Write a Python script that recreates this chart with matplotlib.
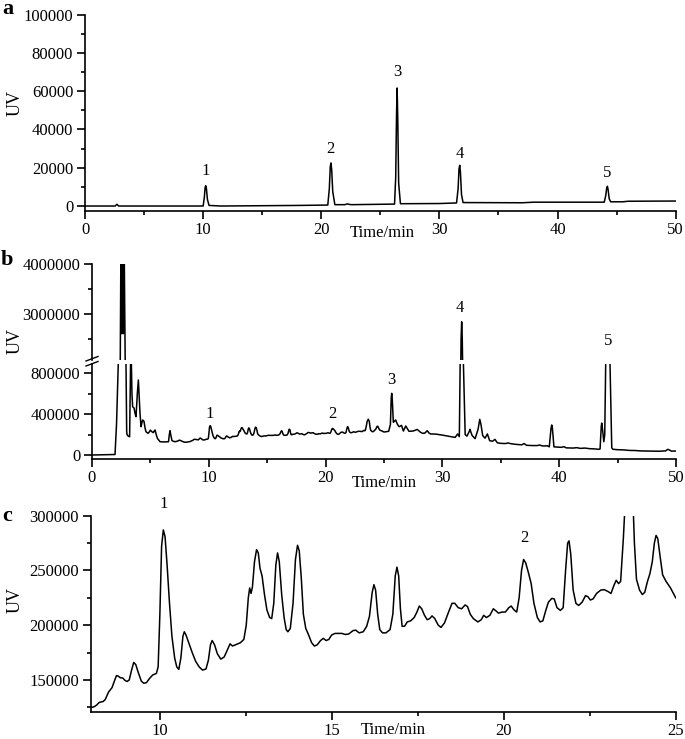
import matplotlib
matplotlib.use("Agg")
import matplotlib.pyplot as plt
from matplotlib.ticker import FixedLocator, FormatStrFormatter
from matplotlib.lines import Line2D

plt.rcParams['font.family'] = ['Liberation Serif', 'DejaVu Serif']

# ---------------- data ----------------
# Panel a: standard mixture chromatogram (time in min, UV signal)
a_time = [0, 2.55, 2.7, 2.85, 10.0, 10.1, 10.17, 10.22, 10.28, 10.36, 10.5, 11.5, 18, 20.55,
          20.68, 20.76, 20.82, 20.88, 20.97, 21.15, 22.0, 22.2, 22.5, 26.2, 26.3, 26.37,
          26.42, 26.47, 26.55, 26.7, 30, 31.45, 31.58, 31.66, 31.72, 31.78, 31.87, 32.0, 37,
          38, 43.95, 44.08, 44.16, 44.22, 44.28, 44.37, 44.5, 45.5, 46, 50]
a_uv = [0, 0, 900, 0, 0, 4500, 9800, 10600, 9000, 3500, 300, 0, 300, 500,
        9000, 20500, 22500, 19000, 7500, 700, 700, 1100, 700, 1000, 15000, 48000,
        61700, 47000, 12000, 1200, 1300, 1600, 9000, 19500, 21300, 17500, 6000, 1800, 1700,
        2000, 2000, 5500, 9500, 10300, 8500, 3800, 2200, 2200, 2500, 2600]
a_peak_time = [10.25, 20.8, 26.4, 31.7, 44.2]
a_peak_label_y = [18500, 29800, 69900, 27200, 17200]
peak_names = ['1', '2', '3', '4', '5']

# Panel b (sample) before 8 min
b_time_early = [0, 1.97, 2.1, 2.25, 2.42, 2.48, 2.55, 2.62, 2.68, 2.75, 2.84, 2.91, 2.97, 3.0,
                3.1, 3.22, 3.27, 3.31, 3.36, 3.42, 3.48, 3.6, 3.7, 3.77, 3.88, 3.97, 4.05,
                4.11, 4.2, 4.28, 4.34, 4.45, 4.55, 4.62, 4.8, 4.9, 5.0, 5.1, 5.25, 5.35, 5.4,
                5.5, 5.6, 5.83, 6.2, 6.55, 6.62, 6.68, 6.74, 6.85, 7.1, 7.3, 7.5, 7.7, 7.9]
b_uv_early = [0, 5000, 300000, 898000, 2100000, 4500000, 2600000, 4500000, 2600000, 4500000,
              2100000, 898000, 228000, 200000, 185000, 179000, 600000, 960000, 960000, 600000,
              473000, 460000, 400000, 375000, 600000, 734000, 550000, 408000, 277000, 320000,
              343000, 330000, 260000, 228000, 212000, 225000, 244000, 230000, 219000, 240000,
              245000, 200000, 163000, 130000, 128000, 130000, 200000, 238000, 200000, 140000,
              130000, 135000, 146000, 135000, 126000]

# Panel c (zoom 8-25 min of the sample; also the middle part of panel b)
c_time = [8.00, 8.10, 8.17, 8.25, 8.36, 8.42, 8.52, 8.62, 8.70, 8.75, 8.80, 8.86, 8.93, 9.00,
          9.06, 9.12, 9.18, 9.25, 9.31, 9.38, 9.47, 9.54, 9.62, 9.70, 9.80, 9.91, 9.96, 10.01,
          10.06, 10.11, 10.16, 10.22, 10.29, 10.36, 10.44, 10.50, 10.56, 10.62, 10.68, 10.72,
          10.77, 10.85, 10.95, 11.05, 11.15, 11.25, 11.35, 11.42, 11.48, 11.53, 11.60, 11.68,
          11.78, 11.88, 11.98, 12.05, 12.12, 12.20, 12.35, 12.45, 12.52, 12.58, 12.62, 12.66,
          12.70, 12.76, 12.82, 12.87, 12.92, 12.98, 13.05, 13.12, 13.20, 13.26, 13.32, 13.38,
          13.43, 13.48, 13.55, 13.62, 13.68, 13.73, 13.80, 13.88, 13.95, 14.01, 14.06, 14.12,
          14.18, 14.25, 14.32, 14.42, 14.50, 14.58, 14.68, 14.76, 14.84, 14.92, 15.00, 15.10,
          15.30, 15.40, 15.50, 15.62, 15.70, 15.80, 15.92, 16.02, 16.10, 16.18, 16.23, 16.28,
          16.34, 16.40, 16.48, 16.58, 16.70, 16.78, 16.85, 16.90, 16.95, 17.00, 17.05, 17.12,
          17.20, 17.30, 17.40, 17.48, 17.55, 17.62, 17.70, 17.78, 17.85, 17.92, 18.00, 18.10,
          18.18, 18.28, 18.40, 18.50, 18.58, 18.68, 18.78, 18.88, 18.95, 19.03, 19.12, 19.25,
          19.35, 19.42, 19.50, 19.60, 19.70, 19.78, 19.85, 19.95, 20.05, 20.15, 20.22, 20.30,
          20.38, 20.45, 20.52, 20.58, 20.64, 20.72, 20.80, 20.88, 20.98, 21.06, 21.14, 21.22,
          21.30, 21.40, 21.47, 21.55, 21.65, 21.73, 21.80, 21.86, 21.90, 21.95, 22.02, 22.10,
          22.18, 22.28, 22.38, 22.45, 22.52, 22.60, 22.70, 22.82, 22.92, 23.02, 23.12, 23.20,
          23.27, 23.34, 23.40, 23.48, 23.56, 23.65, 23.74, 23.80, 23.86, 23.95, 24.03, 24.10,
          24.18, 24.25, 24.32, 24.38, 24.43, 24.48, 24.55, 24.62, 24.72, 24.85, 25.00]
c_uv = [124800, 125500, 127000, 129500, 130300, 132000, 139000, 143000, 150000, 154000, 153500,
        152000, 151800, 149500, 148600, 150000, 158000, 166000, 164000, 157000, 149000, 147000,
        147500, 151000, 154500, 156000, 162000, 210000, 272000, 287000, 281000, 255000, 220000,
        190000, 170000, 162000, 159600, 170000, 190000, 194000, 191000, 184000, 175000, 167000,
        162000, 159000, 160000, 168000, 182000, 186000, 182000, 174000, 169000, 171000, 178000,
        183000, 181000, 182000, 184000, 187000, 200000, 225000, 234000, 229000, 235000, 258000,
        269000, 266000, 252000, 245000, 228000, 214000, 207000, 206000, 220000, 255000, 266000,
        258000, 228000, 207000, 196000, 194000, 197000, 220000, 260000, 273000, 268000, 243000,
        210000, 197000, 192000, 184000, 181000, 182000, 186000, 188000, 186000, 187000, 191000,
        192500, 192500, 191500, 192000, 195000, 195500, 193000, 194000, 199000, 208000, 230000,
        237000, 232000, 210000, 196000, 193000, 193000, 196000, 210000, 245000, 253000, 245000,
        215000, 199000, 199000, 203000, 204000, 207000, 212000, 217500, 215000, 209000, 205000,
        206000, 208500, 206000, 200000, 198000, 202000, 212000, 220000, 220000, 216000, 215000,
        218500, 217000, 210000, 206000, 203000, 205000, 209000, 207000, 209000, 215000, 213000,
        211000, 212000, 212000, 216000, 217500, 214000, 212000, 225000, 250000, 260000, 257000,
        248000, 238000, 220000, 207000, 203000, 204000, 213000, 221000, 224500, 224000, 216000,
        213500, 216000, 250000, 275000, 277000, 265000, 232000, 220000, 218000, 221000, 227000,
        226000, 223000, 224000, 229000, 232000, 232500, 231000, 229000, 236000, 241000, 238000,
        240000, 280000, 330000, 350000, 330000, 275000, 242000, 232000, 228000, 230000, 240000,
        247000, 258000, 275000, 282000, 279000, 262000, 246000, 240000, 234000, 225000]
c_peak_time = [10.11, 20.59]
c_peak_label_y = [310800, 280000]

# Panel b after 25 min
b_time_late = [25.4, 25.55, 25.62, 25.66, 25.71, 25.8, 26.0, 26.15, 26.3, 26.5, 26.66, 26.86,
               27.14, 27.5, 27.85, 28.1, 28.3, 28.5, 28.7, 28.85, 29.0, 29.4, 29.7, 30.0, 30.4,
               30.8, 31.1, 31.3, 31.45, 31.52, 31.6, 31.65, 31.7, 31.8, 31.95, 32.1, 32.3,
               32.36, 32.45, 32.55, 32.8, 33.05, 33.2, 33.3, 33.45, 33.65, 33.85, 34.05, 34.3,
               34.5, 34.7, 35.0, 35.4, 35.6, 35.9, 36.3, 36.8, 37.0, 37.2, 37.6, 38.1, 38.3,
               38.6, 39.0, 39.15, 39.3, 39.36, 39.42, 39.55, 39.8, 40.2, 40.4, 40.6, 41.2, 41.5,
               41.8, 42.2, 42.6, 43.0, 43.4, 43.5, 43.6, 43.64, 43.7, 43.82, 43.9, 43.98, 44.15,
               44.35, 44.5, 44.6, 45.0, 45.5, 46.0, 46.5, 47.0, 47.5, 48.0, 48.5, 49.1, 49.3,
               49.45, 49.6, 50.0]
b_uv_late = [232000, 300000, 560000, 604000, 540000, 320000, 343000, 300000, 277000, 290000,
             235000, 284000, 232000, 235000, 250000, 225000, 212000, 215000, 238000, 215000,
             206000, 205000, 200000, 195000, 186000, 178000, 173000, 206000, 180000, 890000,
             2500000, 2840000, 2500000, 890000, 200000, 185000, 230000, 252000, 220000, 190000,
             160000, 250000, 349000, 300000, 190000, 165000, 206000, 140000, 135000, 153000,
             120000, 114000, 112000, 118000, 110000, 104000, 100000, 112000, 95000, 93000,
             92000, 98000, 88000, 90000, 80000, 260000, 294000, 260000, 80000, 78000, 75000,
             82000, 70000, 68000, 72000, 65000, 68000, 62000, 60000, 56000, 60000, 280000,
             313000, 260000, 130000, 200000, 890000, 1500000, 890000, 70000, 56000, 52000,
             50000, 45000, 44000, 40000, 39000, 38000, 37000, 40000, 56000, 48000, 38000, 39000]
b_peak_time = [10.07, 20.6, 25.65, 31.5, 44.2]
b_peak_label_y = [406000, 400000, 738000, 3110000, 2450000]

# ---------------- figure ----------------
W, H = 685, 739
fig = plt.figure(figsize=(W / 100, H / 100), dpi=100)


def rect(x0, y0, x1, y1):
    # pixel box (left, top, right, bottom) -> figure fraction rect
    return [x0 / W, 1 - y1 / H, (x1 - x0) / W, (y1 - y0) / H]


FS = 12
LW = 1.1
SPW = 1.2


def style(ax):
    for s in ['top', 'right']:
        ax.spines[s].set_visible(False)
    for s in ['left', 'bottom']:
        ax.spines[s].set_linewidth(SPW)
    ax.tick_params(which='major', direction='out', length=5.5, width=SPW, labelsize=FS, pad=3)
    ax.tick_params(which='minor', direction='out', length=3, width=SPW)
    ax.tick_params(axis='x', which='major', pad=2.5)
    ax.yaxis.set_major_formatter(FormatStrFormatter('%d'))


# Panel a
axa = fig.add_axes(rect(85, 14.7, 675.7, 210.7))
axa.plot(a_time, a_uv, color='black', lw=LW)
axa.set_xlim(0, 50)
axa.set_ylim(-2450, 100000)
axa.xaxis.set_major_locator(FixedLocator([0, 10, 20, 30, 40, 50]))
axa.xaxis.set_minor_locator(FixedLocator([5, 15, 25, 35, 45]))
axa.yaxis.set_major_locator(FixedLocator([0, 20000, 40000, 60000, 80000, 100000]))
axa.yaxis.set_minor_locator(FixedLocator([10000, 30000, 50000, 70000, 90000]))
style(axa)
for t, y, n in zip(a_peak_time, a_peak_label_y, peak_names):
    axa.text(t, y, n, ha='center', va='center', fontsize=FS)

# Panel b (broken axis)
b_time = b_time_early + c_time + b_time_late
b_uv = b_uv_early + c_uv + b_uv_late

axb_top = fig.add_axes(rect(92, 264.3, 676, 360))
axb_bot = fig.add_axes(rect(92, 364, 676, 459.3))
for ax in (axb_top, axb_bot):
    ax.plot(b_time, b_uv, color='black', lw=LW)
    ax.set_xlim(0, 50)
    style(ax)
axb_top.set_ylim(2070000, 4000000)
axb_bot.set_ylim(-42000, 891000)
axb_top.spines['bottom'].set_visible(False)
axb_top.tick_params(axis='x', which='both', bottom=False, labelbottom=False)
axb_top.yaxis.set_major_locator(FixedLocator([3000000, 4000000]))
axb_top.yaxis.set_minor_locator(FixedLocator([2500000, 3500000]))
axb_bot.yaxis.set_major_locator(FixedLocator([0, 400000, 800000]))
axb_bot.yaxis.set_minor_locator(FixedLocator([200000, 600000]))
axb_bot.xaxis.set_major_locator(FixedLocator([0, 10, 20, 30, 40, 50]))
axb_bot.xaxis.set_minor_locator(FixedLocator([5, 15, 25, 35, 45]))
for t, y, n in zip(b_peak_time, b_peak_label_y, peak_names):
    ax = axb_top if y > 1000000 else axb_bot
    ax.text(t, y, n, ha='center', va='center', fontsize=FS)

# break marks
for dy in (0, 5):
    fig.add_artist(Line2D([86 / W, 98 / W], [1 - (361 + dy) / H, 1 - (356.5 + dy) / H],
                          transform=fig.transFigure, color='black', lw=1.0))

# Panel c
axc = fig.add_axes(rect(90.7, 515.7, 675.7, 711.7))
axc.plot(c_time, c_uv, color='black', lw=LW)
axc.set_xlim(8, 25)
axc.set_ylim(121000, 300000)
axc.xaxis.set_major_locator(FixedLocator([10, 15, 20, 25]))
axc.xaxis.set_minor_locator(FixedLocator([12.5, 17.5, 22.5]))
axc.yaxis.set_major_locator(FixedLocator([150000, 200000, 250000, 300000]))
axc.yaxis.set_minor_locator(FixedLocator([125000, 175000, 225000, 275000]))
style(axc)
for t, y, n in zip(c_peak_time, c_peak_label_y, peak_names):
    axc.text(t, y, n, ha='center', va='center', fontsize=FS, clip_on=False)

# Axis titles and panel letters
for (x, y) in [(382, 233), (384, 483), (393, 730)]:
    fig.text(x / W, 1 - y / H, 'Time/min', ha='center', va='center', fontsize=FS)
for y in [103, 341, 600]:
    fig.text(15.5 / W, 1 - y / H, 'UV', rotation=90, ha='center', va='center', fontsize=13)
for (x, y, s) in [(8, 9, 'a'), (7, 260, 'b'), (7, 516, 'c')]:
    fig.text(x / W, 1 - y / H, s, ha='center', va='center', fontsize=16, fontweight='bold')

fig.savefig('out.png', dpi=100)
